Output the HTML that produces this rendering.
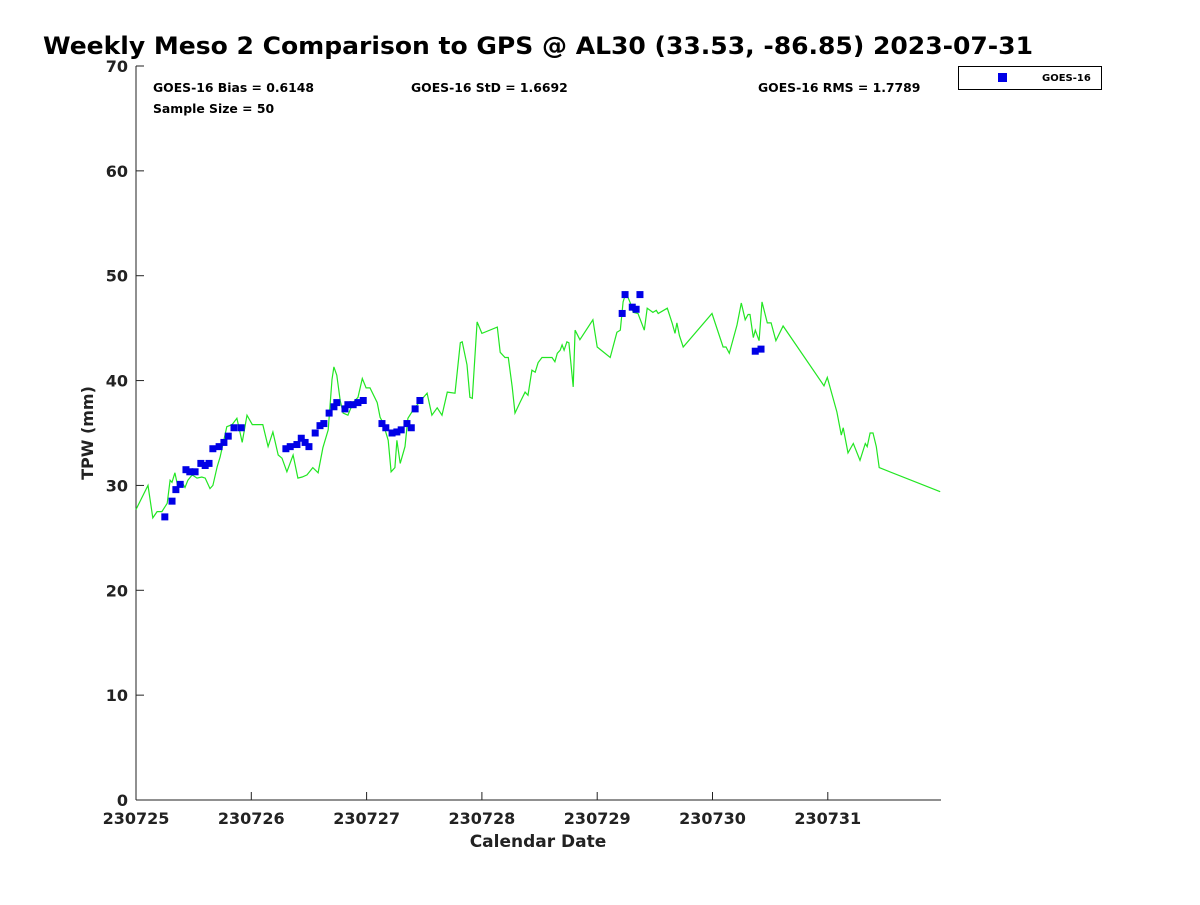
<!DOCTYPE html>
<html><head><meta charset="utf-8"><style>
body{margin:0;background:#fff;font-family:"Liberation Sans","DejaVu Sans",sans-serif}
</style></head><body>
<svg id="chart" width="1200" height="900" xmlns="http://www.w3.org/2000/svg" font-family="DejaVu Sans, Liberation Sans, sans-serif">
<rect width="1200" height="900" fill="#fff"/>
<text x="43" y="54" font-size="24" font-weight="bold" fill="#000" textLength="990" lengthAdjust="spacingAndGlyphs">Weekly Meso 2 Comparison to GPS @ AL30 (33.53, -86.85) 2023-07-31</text>
<text x="153" y="92" font-size="12.4" font-weight="bold">GOES-16 Bias = 0.6148</text>
<text x="411" y="92" font-size="12.4" font-weight="bold">GOES-16 StD = 1.6692</text>
<text x="758" y="92" font-size="12.4" font-weight="bold">GOES-16 RMS = 1.7789</text>
<text x="153" y="113" font-size="12.4" font-weight="bold">Sample Size = 50</text>
<g>
<rect x="958.5" y="66.5" width="143" height="23" fill="#fff" stroke="#000" stroke-width="1"/>
<rect x="998" y="73" width="9" height="9" fill="#0000e6"/>
<text x="1042" y="81" font-size="10" font-weight="bold">GOES-16</text>
</g>
<g id="axes"></g>
<g id="marks"></g>
<text x="538" y="847" font-size="17" font-weight="bold" text-anchor="middle" fill="#222">Calendar Date</text>
<text transform="translate(93,433) rotate(-90)" font-size="16" font-weight="bold" text-anchor="middle" fill="#222">TPW (mm)</text>
</svg>
<script>
const xTickLabels=["230725","230726","230727","230728","230729","230730","230731"];
const yTicks=[0,10,20,30,40,50,60,70];
const gpsHours=[0,2.5,3.5,4.4,5.4,6.5,7.1,7.5,8.1,8.7,9.6,10.2,10.8,11.7,12.7,13.7,14.4,15.4,16.0,16.9,17.5,18.9,20.0,21.0,22.1,23.1,24.2,26.4,27.5,28.5,29.6,30.4,31.4,32.7,33.7,34.6,35.6,36.8,37.9,38.9,40.0,40.8,41.2,41.8,42.5,43.1,44.1,45.2,46.2,47.1,47.9,48.7,50.2,50.8,51.4,52.5,53.1,53.9,54.3,55.0,56.0,56.6,57.7,59.1,60.6,61.6,62.7,63.7,64.8,66.4,67.5,67.9,68.9,69.5,70.0,71.0,72.0,75.2,75.8,76.8,77.5,78.3,78.9,79.9,81.0,81.6,82.4,83.1,83.7,84.5,85.8,86.6,87.2,87.7,88.3,88.7,89.1,89.7,90.1,91.0,91.4,92.4,95.1,96.0,98.7,100.1,100.8,101.4,102.0,102.9,103.5,104.5,105.8,106.4,107.6,108.3,108.7,110.6,111.6,112.2,112.6,113.1,113.9,119.9,122.2,122.8,123.5,125.1,126.0,126.8,127.4,127.8,128.5,128.9,129.7,130.3,131.4,132.2,133.2,134.7,143.2,143.9,145.9,146.8,147.2,148.2,149.3,150.7,151.8,152.2,152.8,153.4,154.1,154.7,167.4];
const gpsTPW=[27.7,30.0,26.9,27.5,27.5,28.3,30.5,30.3,31.2,29.9,30.3,29.8,30.5,31.0,30.7,30.8,30.7,29.7,30.0,31.8,32.7,35.6,35.8,36.4,34.1,36.7,35.8,35.8,33.7,35.1,32.9,32.6,31.3,32.9,30.7,30.8,31.0,31.7,31.2,33.6,35.3,40.1,41.3,40.5,38.1,36.9,36.7,37.9,38.4,40.2,39.3,39.3,37.9,36.5,36.0,34.3,31.3,31.7,34.3,32.1,33.7,36.4,37.2,38.0,38.8,36.7,37.4,36.7,38.9,38.8,43.6,43.7,41.5,38.4,38.3,45.6,44.5,45.1,42.7,42.2,42.2,39.4,36.9,37.9,38.9,38.6,41.0,40.8,41.7,42.2,42.2,42.2,41.8,42.6,42.9,43.4,42.9,43.7,43.6,39.4,44.8,43.9,45.8,43.2,42.2,44.6,44.8,47.5,48.4,47.4,46.5,46.4,44.8,46.9,46.5,46.7,46.4,46.9,45.5,44.5,45.5,44.3,43.2,46.4,43.2,43.2,42.6,45.3,47.4,45.8,46.3,46.3,44.1,44.8,43.8,47.5,45.5,45.5,43.8,45.2,39.5,40.3,37.0,34.8,35.5,33.1,34.0,32.4,34.0,33.7,35.0,35.0,33.7,31.7,29.4];
const goesHours=[6.0,7.5,8.3,9.2,10.4,11.2,12.3,13.5,14.4,15.2,16.0,17.3,18.3,19.2,20.4,21.9,31.2,32.1,33.5,34.4,35.2,36.0,37.3,38.3,39.1,40.2,41.2,41.8,43.5,44.1,45.2,46.2,47.3,51.2,52.0,53.3,54.3,55.2,56.4,57.3,58.1,59.1,101.2,101.8,103.3,104.1,104.9,128.9,130.1];
const goesTPW=[27.0,28.5,29.6,30.1,31.5,31.3,31.3,32.1,31.9,32.1,33.5,33.7,34.1,34.7,35.5,35.5,33.5,33.7,33.9,34.5,34.1,33.7,35.0,35.7,35.9,36.9,37.5,37.9,37.3,37.7,37.7,37.9,38.1,35.9,35.5,35.0,35.1,35.3,35.9,35.5,37.3,38.1,46.4,48.2,47.0,46.8,48.2,42.8,43.0];
const NS="http://www.w3.org/2000/svg";
const X0=136,X1=941,Y0=800,Y1=66;
const xs=h=>X0+h/24*115.3;
const ys=v=>Y0-v/70*(Y0-Y1);
function mk(t,a,p){const e=document.createElementNS(NS,t);for(const k in a)e.setAttribute(k,a[k]);p.appendChild(e);return e;}
const ax=document.getElementById('axes'),mg=document.getElementById('marks');
const yl=mk('line',{x1:X0,y1:Y0,x2:X0,y2:Y1,stroke:'#222','stroke-width':1},ax);


const xl=mk('line',{x1:X0,y1:Y0,x2:X1,y2:Y0,stroke:'#222','stroke-width':1},ax);


yTicks.forEach(v=>{
 const y=ys(v);
 const t=mk('line',{x1:X0,y1:y,x2:X0+8,y2:y,stroke:'#222'},ax);
 
 
 const l=mk('text',{x:X0-8,y:y+6,'font-size':16,'font-weight':'bold','text-anchor':'end',fill:'#222'},ax);
 l.textContent=v;
 
 
});
xTickLabels.forEach((s,i)=>{
 const x=xs(i*24);
 const t=mk('line',{x1:x,y1:Y0,x2:x,y2:Y0-8,stroke:'#222'},ax);
 
 
 const l=mk('text',{x:x,y:Y0+24,'font-size':16,'font-weight':'bold','text-anchor':'middle',fill:'#222'},ax);
 l.textContent=s;
 
 
});
const pts=gpsHours.map((h,i)=>xs(h).toFixed(1)+','+ys(gpsTPW[i]).toFixed(1)).join(' ');
const pl=mk('polyline',{points:pts,fill:'none',stroke:'#22e622','stroke-width':1.2},mg);


goesHours.forEach((h,i)=>{
 const r=mk('rect',{x:xs(h)-3.5,y:ys(goesTPW[i])-3.5,width:7,height:7,fill:'#0000e6'},mg);
 
 
});
</script>
</body></html>
